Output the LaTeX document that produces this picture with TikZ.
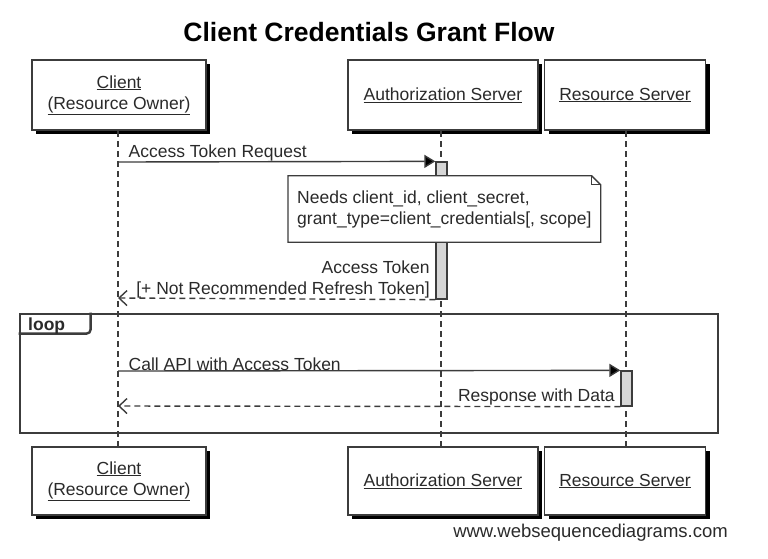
\documentclass[tikz,border=0pt]{standalone}
\usepackage{fontspec}
\setmainfont{Liberation Sans}
\usepackage{tikz}
\usetikzlibrary{positioning}
\usetikzlibrary{arrows.meta,shadows}

\definecolor{ink}{HTML}{2A2A2A}
\definecolor{edge}{HTML}{3C3C3C}
\definecolor{actfill}{HTML}{D6D6D6}

\begin{document}
\begin{tikzpicture}
            [x=1pt, y=-1pt,
             txt/.style = {text=ink, font=\fontsize{17.5}{21}\selectfont, inner sep=2pt},
             party/.style = {draw=edge, line width=1.4pt, fill=white, minimum height=70pt,
                             align=center, text=ink, font=\fontsize{17.5}{21}\selectfont,
                             drop shadow={shadow xshift=4pt, shadow yshift=-4pt, fill=black, opacity=1}},
             life/.style = {draw=edge, line width=1.1pt, dash pattern=on 6pt off 4pt},
             act/.style = {draw=edge, line width=1.3pt, fill=actfill, minimum width=11pt, inner sep=0pt},
             req/.style = {draw=edge, line width=1.4pt, -{Triangle[length=11pt, width=13pt, fill=black]}},
             reply/.style = {draw=edge, line width=1.4pt, dash pattern=on 6pt off 4pt,
                             -{Straight Barb[length=8pt, width=15pt, line width=1.4pt]}}]

            \useasboundingbox (0,0) rectangle (768,558);

            % title
            \node[text=black, font=\bfseries\fontsize{26.5}{30}\selectfont] (title) at (369,32) {Client Credentials Grant Flow};

            % participants, top and bottom
            \node[party, minimum width=174pt] (clientT) at (119,95) {\underline{Client}\\\underline{(Resource Owner)}};
            \node[party, minimum width=190pt] (authT) at (443,95) {\underline{Authorization Server}};
            \node[party, minimum width=161pt] (resT) at (625,95) {\underline{Resource Server}};
            \node[party, minimum width=174pt, minimum height=68pt] (clientB) at (119,481) {\underline{Client}\\\underline{(Resource Owner)}};
            \node[party, minimum width=190pt, minimum height=68pt] (authB) at (443,481) {\underline{Authorization Server}};
            \node[party, minimum width=161pt, minimum height=68pt] (resB) at (625,481) {\underline{Resource Server}};

            % lifelines
            \coordinate (clientL1) at (118,131);
            \coordinate (clientL2) at (118,446);
            \coordinate (authL1) at (441,131);
            \coordinate (authL2) at (441,446);
            \coordinate (resL1) at (626,131);
            \coordinate (resL2) at (626,446);
            \draw[life] (clientL1) -- (clientL2);
            \draw[life] (authL1) -- (authL2);
            \draw[life] (resL1) -- (resL2);

            % activations
            \node[act, minimum height=137pt] (actAuth) at (441.5,230.5) {};
            \node[act, minimum height=35pt] (actRes) at (626.5,388.5) {};

            % token request
            \coordinate (c1) at (118,162);
            \coordinate (c2) at (118,298);
            \draw[req] (c1) to node[txt, pos=0, anchor=south west, xshift=8pt, yshift=-2pt] {Access Token Request} (actAuth.north west);

            % note
            \node[txt, fill=white, anchor=west, minimum height=66pt, align=left, inner xsep=9pt] (note) at (288,209) {Needs client\_id, client\_secret,\\grant\_type=client\_credentials[, scope]};
            \draw[draw=edge, line width=1.3pt] (note.north west) -- ([xshift=-9pt]note.north east) -- ([yshift=-9pt]note.north east) -- (note.south east) -- (note.south west) -- cycle;
            \draw[draw=edge, line width=1pt] ([xshift=-9pt]note.north east) -- ([xshift=-9pt,yshift=-9pt]note.north east) -- ([yshift=-9pt]note.north east);

            \draw[reply] (actAuth.south west) to node[txt, pos=0, anchor=south east, xshift=-3pt, yshift=-1pt, align=right] {Access Token\\{}[+ Not Recommended Refresh Token]} (c2);

            % loop frame
            \node[draw=edge, line width=2.8pt, minimum width=698pt, minimum height=119pt, inner sep=0pt] (loop) at (369,373.5) {};
            \draw[draw=edge, line width=2.4pt, rounded corners=4pt] ([yshift=-21pt]loop.north west) -- ([xshift=72pt,yshift=-21pt]loop.north west) -- ([xshift=72pt]loop.north west);
            \node[txt, font=\bfseries\fontsize{17.5}{21}\selectfont, anchor=west] (looplbl) at (26,326) {loop};

            % api call
            \coordinate (c3) at (118,371);
            \coordinate (c4) at (118,406);
            \draw[req] (c3) to node[txt, pos=0, anchor=south west, xshift=8pt, yshift=-2pt] {Call API with Access Token} (actRes.north west);
            \draw[reply] (actRes.south west) to node[txt, pos=0, anchor=south east, xshift=-3pt, yshift=-1pt] {Response with Data} (c4);

            % footer
            \node[txt, anchor=east, font=\fontsize{18.5}{22}\selectfont] (site) at (730,533) {www.websequencediagrams.com};

        \end{tikzpicture}
\end{document}
